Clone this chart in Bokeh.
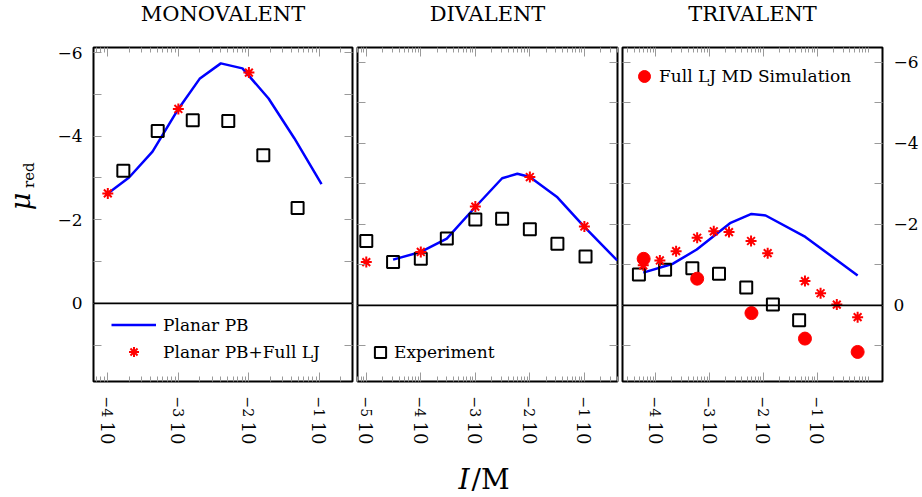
import math
from bokeh.plotting import figure
from bokeh.layouts import row, column
from bokeh.models import (Range1d, FixedTicker, LogAxis, LinearAxis, Span, Label,
                          Legend, LegendItem, CustomJSTickFormatter)
from bokeh.embed import file_html
from bokeh.resources import INLINE

# ---------------- data ----------------
titles = ["MONOVALENT", "DIVALENT", "TRIVALENT"]

mono_pb_I = [1e-4, 2e-4, 4.3e-4, 1e-3, 2e-3, 4e-3, 8.1e-3, 1.9e-2, 4.4e-2, 1.07e-1]
mono_pb_mu = [-2.63, -3.01, -3.63, -4.65, -5.37, -5.74, -5.62, -4.90, -3.95, -2.85]
mono_lj_I = [1e-4, 1e-3, 1e-2]
mono_lj_mu = [-2.63, -4.65, -5.52]
mono_exp_I = [1.66e-4, 5.1e-4, 1.6e-3, 5.1e-3, 1.6e-2, 4.9e-2]
mono_exp_mu = [-3.17, -4.12, -4.38, -4.36, -3.54, -2.28]

di_pb_I = [3.1e-5, 1e-4, 3e-4, 1e-3, 3.1e-3, 5.9e-3, 1e-2, 3.2e-2, 9.8e-2, 0.4]
di_pb_mu = [-1.13, -1.32, -1.65, -2.43, -3.14, -3.25, -3.17, -2.67, -1.95, -1.11]
di_lj_I = [1e-5, 1e-4, 1e-3, 1e-2, 1e-1]
di_lj_mu = [-1.07, -1.32, -2.44, -3.17, -1.95]
di_exp_I = [1e-5, 3.1e-5, 1e-4, 3e-4, 1e-3, 3.1e-3, 1e-2, 3.2e-2, 1.05e-1]
di_exp_mu = [-1.59, -1.07, -1.15, -1.65, -2.12, -2.14, -1.88, -1.52, -1.21]

tri_pb_I = [5.9e-5, 2.1e-4, 5.8e-4, 2.4e-3, 6e-3, 1.1e-2, 6e-2, 0.56]
tri_pb_mu = [-0.81, -1.03, -1.38, -2.03, -2.26, -2.22, -1.69, -0.74]
tri_lj_I = [5.9e-5, 1.2e-4, 2.4e-4, 5.9e-4, 1.2e-3, 2.3e-3, 5.9e-3, 1.2e-2, 5.9e-2, 1.15e-1, 2.3e-1, 5.6e-1]
tri_lj_mu = [-0.99, -1.11, -1.34, -1.67, -1.83, -1.81, -1.59, -1.29, -0.60, -0.30, -0.02, 0.29]
tri_md_I = [6e-5, 5.9e-4, 6e-3, 5.9e-2, 5.6e-1]
tri_md_mu = [-1.15, -0.66, 0.19, 0.82, 1.15]
tri_exp_I = [4.9e-5, 1.5e-4, 4.8e-4, 1.5e-3, 4.8e-3, 1.5e-2, 4.6e-2]
tri_exp_mu = [-0.76, -0.88, -0.92, -0.78, -0.44, -0.02, 0.37]

y_major = [-6, -4, -2, 0]
y_minor = [-5, -3, -1, 1]
x_major = [1e-6, 1e-5, 1e-4, 1e-3, 1e-2, 1e-1]
x_minor = [k * 10.0 ** d for d in range(-6, 0) for k in range(2, 10)]

# ---------------- style ----------------
FONT = "DejaVu Serif"
TICK_COL = "#9a9a9a"
BLUE = "#0000ff"
RED = "#ff0000"
FRAME_H = 334
ROW_H = 404
TOTAL_W = 920

base_fmt = CustomJSTickFormatter(code="return '10';")
exp_fmt = CustomJSTickFormatter(code="""
const e = Math.round(Math.log10(tick));
return e < 0 ? '\u2212' + Math.abs(e) : String(e);
""")
yfmt = CustomJSTickFormatter(code="return tick < 0 ? '\u2212' + Math.abs(tick) : String(tick);")


def ticks_only(ax):
    ax.axis_line_color = None
    ax.major_tick_line_color = TICK_COL
    ax.minor_tick_line_color = TICK_COL
    ax.major_tick_out = 0
    ax.minor_tick_out = 0


def hide_labels(ax):
    ax.major_label_text_font_size = "1px"
    ax.major_label_text_color = None
    ax.major_label_standoff = 0


def blank_fig(w, h):
    f = figure(width=w, height=h, x_range=Range1d(0, w), y_range=Range1d(0, h),
               min_border=0, x_axis_location=None, y_axis_location=None,
               output_backend="svg", toolbar_location=None)
    f.grid.visible = False
    f.outline_line_color = None
    f.background_fill_color = "white"
    f.border_fill_color = "white"
    return f


def make_panel(xr, yr, fw, bl, br, left_labels, right_labels):
    p = figure(x_axis_type="log", x_range=Range1d(*xr), y_range=Range1d(*yr),
               frame_width=fw, frame_height=FRAME_H,
               min_border_left=bl, min_border_right=br,
               min_border_top=4, min_border_bottom=ROW_H - FRAME_H - 4,
               x_axis_location=None, y_axis_location=None,
               output_backend="svg", toolbar_location=None)
    p.grid.visible = False
    p.outline_line_color = "black"
    p.outline_line_width = 2
    p.background_fill_color = "white"
    p.border_fill_color = "white"
    xt = FixedTicker(ticks=x_major, minor_ticks=x_minor)
    yt = FixedTicker(ticks=y_major, minor_ticks=y_minor)

    # bottom: exponent labels next to the frame, then the "10" labels
    below_exp = LogAxis(ticker=xt, formatter=exp_fmt, major_label_orientation="vertical")
    ticks_only(below_exp)
    below_exp.major_tick_in = 9
    below_exp.minor_tick_in = 5
    below_exp.major_label_text_font = FONT
    below_exp.major_label_text_font_size = "14px"
    below_exp.major_label_text_color = "black"
    below_exp.major_label_standoff = 15
    below_base = LogAxis(ticker=xt, formatter=base_fmt, major_label_orientation="vertical")
    ticks_only(below_base)
    below_base.major_tick_line_color = None
    below_base.minor_tick_line_color = None
    below_base.major_label_text_font = FONT
    below_base.major_label_text_font_size = "18px"
    below_base.major_label_text_color = "black"
    below_base.major_label_standoff = 1

    above = LogAxis(ticker=xt, formatter=exp_fmt)
    ticks_only(above)
    above.major_tick_in = 9
    above.minor_tick_in = 5
    hide_labels(above)

    left = LinearAxis(ticker=yt, formatter=yfmt)
    right = LinearAxis(ticker=yt, formatter=yfmt)
    for ax, lab in ((left, left_labels), (right, right_labels)):
        ticks_only(ax)
        ax.major_tick_in = 8
        ax.minor_tick_in = 8
        if lab:
            ax.major_label_text_font = FONT
            ax.major_label_text_font_size = "17px"
            ax.major_label_text_color = "black"
            ax.major_label_standoff = 11
        else:
            hide_labels(ax)

    p.add_layout(below_exp, "below")
    p.add_layout(below_base, "below")
    p.add_layout(above, "above")
    p.add_layout(left, "left")
    p.add_layout(right, "right")
    p.add_layout(Span(location=0, dimension="width", line_color="black", line_width=1.6))
    return p


def legend(items, vx, vy, gw, gh, standoff, spacing=2):
    return Legend(items=items, location=(vx, vy), border_line_color=None,
                  background_fill_alpha=0, label_text_font=FONT,
                  label_text_font_size="17px", label_text_color="black",
                  padding=0, margin=0, spacing=spacing, glyph_width=gw, glyph_height=gh,
                  label_height=gh, label_standoff=standoff)


def text(f, x, y, s, size, italic=False, angle=0.0, align="left"):
    f.add_layout(Label(x=x, y=y, text=s, angle=angle, text_align=align,
                       text_baseline="alphabetic", text_font=FONT,
                       text_font_style="italic" if italic else "normal",
                       text_font_size=size, text_color="black"))


# ---------------- titles row ----------------
TOP_H = 43
tfig = blank_fig(TOTAL_W, TOP_H)
for t, cx in zip(titles, [222.5, 487, 752]):
    text(tfig, cx, 30, t, "21px", align="center")

# ---------------- y label ----------------
YL_W = 53
yfig = blank_fig(YL_W, ROW_H)
text(yfig, 19.5, 447 - 240, "\u03bc", "27px", italic=True, angle=math.pi / 2)
text(yfig, 28, 447 - 213, "red", "15px", angle=math.pi / 2)

# ---------------- panel 1 ----------------
p1 = make_panel((6.27e-5, 0.294), (1.87, -6.12), 259, 40, 3, True, False)
r1l = p1.line(mono_pb_I, mono_pb_mu, line_color=BLUE, line_width=2.5)
r1e = p1.scatter(mono_exp_I, mono_exp_mu, marker="square", size=12, line_color="black",
                 line_width=2, fill_alpha=0)
r1s = p1.scatter(mono_lj_I, mono_lj_mu, marker="asterisk", size=11, line_color=RED, line_width=2)
p1.add_layout(legend([LegendItem(label="Planar PB", renderers=[r1l]),
                      LegendItem(label="Planar PB+Full LJ", renderers=[r1s])],
                     18, 17, 45, 25, 7, spacing=2))

# ---------------- panel 2 ----------------
p2 = make_panel((6.9e-6, 0.405), (1.88, -6.37), 260, 2, 3, False, False)
r2l = p2.line(di_pb_I, di_pb_mu, line_color=BLUE, line_width=2.5)
r2e = p2.scatter(di_exp_I, di_exp_mu, marker="square", size=12, line_color="black",
                 line_width=2, fill_alpha=0)
r2s = p2.scatter(di_lj_I, di_lj_mu, marker="asterisk", size=11, line_color=RED, line_width=2)
p2.add_layout(legend([LegendItem(label="Experiment", renderers=[r2e])], 9, 15, 28, 28, -3))

# ---------------- panel 3 ----------------
p3 = make_panel((2.43e-5, 1.62), (1.88, -6.37), 260, 2, 38, False, True)
r3l = p3.line(tri_pb_I, tri_pb_mu, line_color=BLUE, line_width=2.5)
r3e = p3.scatter(tri_exp_I, tri_exp_mu, marker="square", size=12, line_color="black",
                 line_width=2, fill_alpha=0)
r3s = p3.scatter(tri_lj_I, tri_lj_mu, marker="asterisk", size=11, line_color=RED, line_width=2)
r3m = p3.scatter(tri_md_I, tri_md_mu, marker="circle", size=13, line_color=RED,
                 fill_color=RED)
p3.add_layout(legend([LegendItem(label="Full LJ MD Simulation", renderers=[r3m])],
                     7, 290, 30, 30, -3))

# ---------------- x label ----------------
BOT_H = 49
xfig = blank_fig(TOTAL_W, BOT_H)
text(xfig, 458, 17, "I", "28px", italic=True)
text(xfig, 471, 17, "/M", "28px")

layout = column(tfig, row(yfig, p1, p2, p3), xfig)
open("out.html", "w").write(file_html(layout, INLINE))
